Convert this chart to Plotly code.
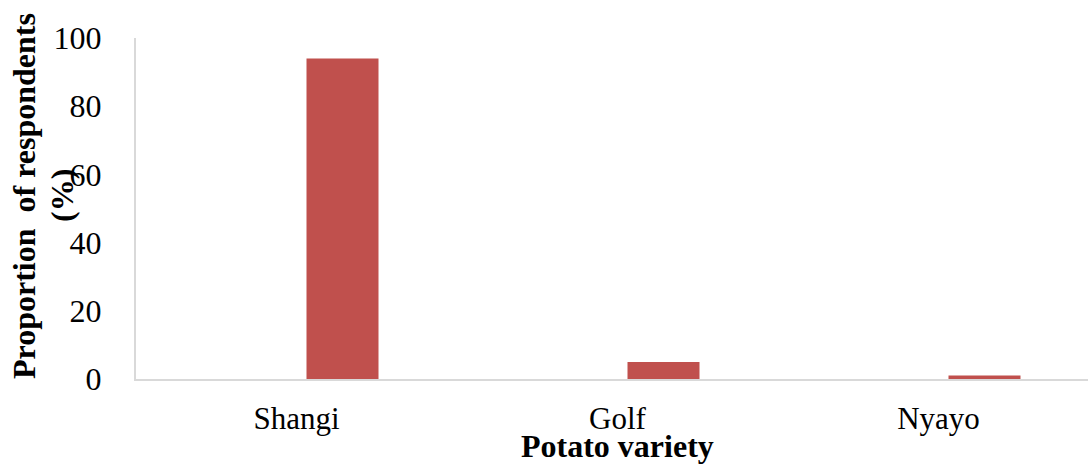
import plotly.graph_objects as go

# Survey results: share of respondents growing each potato variety
varieties = ["Shangi", "Golf", "Nyayo"]
proportion = [94, 5, 1]

y_ticks = [0, 20, 40, 60, 80, 100]

BAR_COLOR = "#C0504D"
AXIS_COLOR = "#D9D9D9"
FONT = "Liberation Serif, Times New Roman, serif"
FS = 32

W, H = 1088, 465
M_L, M_R, M_T, M_B = 136, 0, 38, 86
plot_w = W - M_L - M_R
plot_h = H - M_T - M_B
cat_px = 321.0  # pixel width of one category slot


def px_x(px):
    return (px - M_L) / plot_w


def px_y(py):
    return (M_T + plot_h - py) / plot_h


fig = go.Figure()
fig.add_trace(go.Bar(
    x=varieties,
    y=proportion,
    marker=dict(color=BAR_COLOR, line=dict(width=0)),
    width=72 / cat_px,
    offset=10 / cat_px,
    showlegend=False,
))

title_font = dict(family=FONT, size=FS, color="black")

fig.update_layout(
    width=W,
    height=H,
    margin=dict(l=M_L, r=M_R, t=M_T, b=M_B, pad=0),
    paper_bgcolor="white",
    plot_bgcolor="white",
    font=dict(family=FONT, size=FS, color="black"),
    xaxis=dict(
        type="category",
        range=[-0.5, -0.5 + plot_w / cat_px],
        showline=True,
        linecolor=AXIS_COLOR,
        linewidth=2,
        showgrid=False,
        zeroline=False,
        ticks="",
        ticklabelstandoff=11,
        tickfont=dict(family=FONT, size=31, color="black"),
    ),
    yaxis=dict(
        range=[0, 100],
        tickvals=y_ticks,
        showline=True,
        linecolor=AXIS_COLOR,
        linewidth=2,
        showgrid=False,
        zeroline=False,
        ticks="",
        ticklabelstandoff=26,
        tickfont=dict(family=FONT, size=FS, color="black"),
    ),
    annotations=[
        dict(
            text="<b>Proportion  of respondents</b>",
            xref="paper", yref="paper",
            x=px_x(24), y=px_y(196),
            xanchor="center", yanchor="middle",
            textangle=-90,
            showarrow=False,
            font=title_font,
        ),
        dict(
            text="<b>(%)</b>",
            xref="paper", yref="paper",
            x=px_x(62), y=px_y(196),
            xanchor="center", yanchor="middle",
            textangle=-90,
            showarrow=False,
            font=title_font,
        ),
        dict(
            text="<b>Potato variety</b>",
            xref="paper", yref="paper",
            x=px_x(617.5), y=px_y(446),
            xanchor="center", yanchor="middle",
            showarrow=False,
            font=title_font,
        ),
    ],
)

fig.write_html("out.html")
